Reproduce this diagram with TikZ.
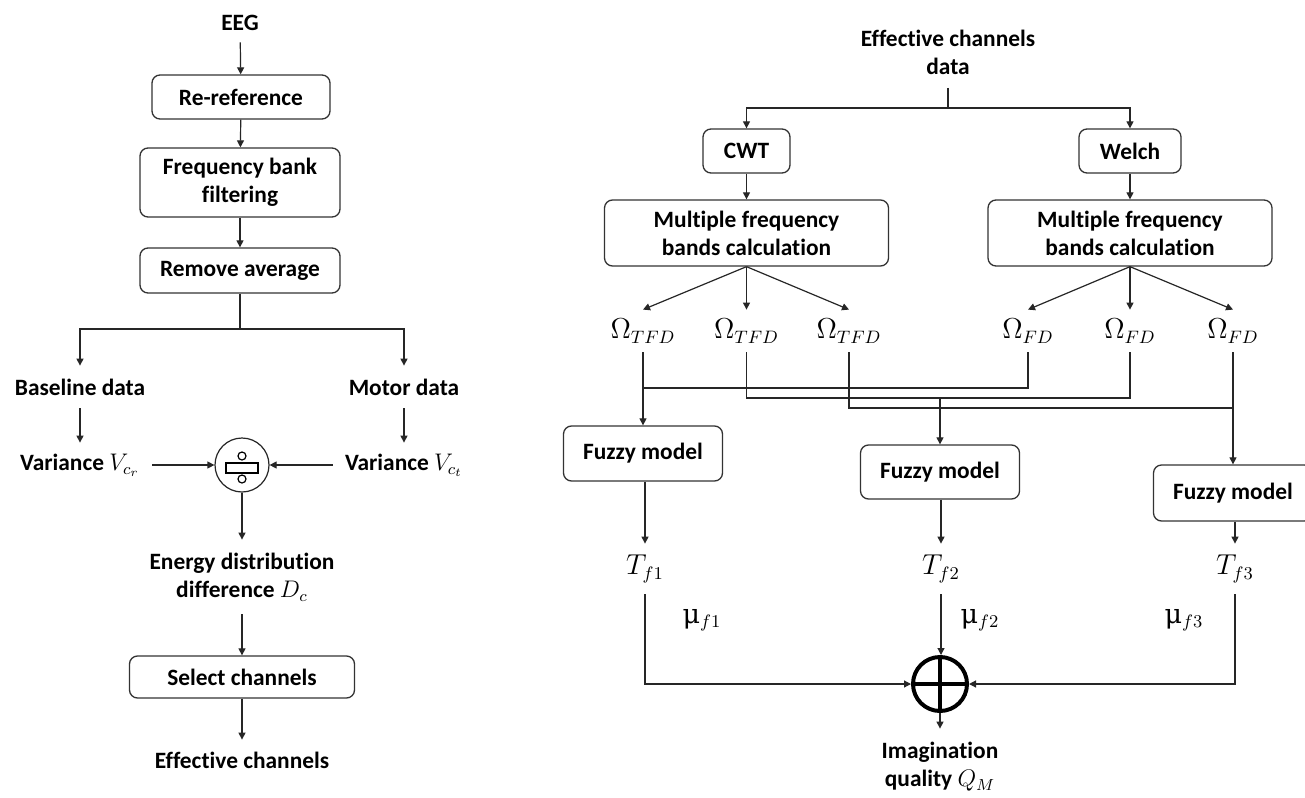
\documentclass[tikz,border=0pt]{standalone}
\usepackage[no-math]{fontspec}
\setmainfont{Carlito}[Ligatures=NoCommon]
\newfontfamily\grserif{DejaVu Serif}
\usetikzlibrary{arrows.meta}
\begin{document}
\begin{tikzpicture}[x=0.5pt,y=-0.5pt,
  base/.style={font=\fontsize{11.7}{14}\selectfont\bfseries},
  box/.style={base, draw=black!80, line width=0.65pt, rounded corners=4pt, inner sep=0pt, align=center},
  txt/.style={base, inner sep=0pt, align=center},
  mth/.style={inner sep=0pt, align=center, font=\fontsize{13.5}{15}\selectfont},
  arr/.style={-{Triangle[length=3.5pt,width=3.5pt]}, line width=0.6pt, black!85},
  ln/.style={line width=0.6pt, black!85}]
\useasboundingbox (0,0) rectangle (1305,797);
\fill[white] (0,0) rectangle (1305,797);

% ---------------- left chain ----------------
\node[txt, minimum height=19pt] (eeg) at (240,23) {EEG};
\node[box, minimum width=89pt, minimum height=22pt] (reref) at (241,97) {Re-reference};
\node[box, minimum width=100pt, minimum height=34.5pt] (fbf) at (240,182.5) {Frequency bank\\filtering};
\node[box, minimum width=100pt, minimum height=22.5pt] (ravg) at (240,270.5) {Remove average};
\coordinate (s1) at (240,329);
\node[txt, minimum height=21pt] (bl) at (80,387) {Baseline data};
\node[txt, minimum height=21pt] (md) at (404,387) {Motor data};
\node[txt, minimum height=22pt, inner xsep=6pt] (vcr) at (80,465) {Variance $V_{c_r}$};
\node[txt, minimum height=22pt, inner xsep=6pt] (vct) at (404,465) {Variance $V_{c_t}$};
\node[circle, draw=black!85, line width=0.6pt, minimum size=27pt, inner sep=0pt] (div) at (242,465) {};
\draw[line width=0.6pt] (242,456) circle[radius=4];
\draw[line width=0.6pt] (242,479) circle[radius=4];
\draw[line width=0.6pt] (226,463) rectangle (258,473);
\node[txt, minimum height=37pt] (edd) at (242,577) {Energy distribution\\difference $D_c$};
\node[box, minimum width=112.5pt, minimum height=21pt] (sel) at (242,677) {Select channels};
\node[txt, minimum height=20pt] (effc) at (242,760) {Effective channels};

\draw[arr] (eeg) -- (reref);
\draw[arr] (reref) -- (fbf);
\draw[arr] (fbf) -- (ravg);
\draw[ln] (ravg.south) -- (s1);
\draw[arr] (s1) -| (bl.north);
\draw[arr] (s1) -| (md.north);
\draw[arr] (bl) -- (vcr);
\draw[arr] (md) -- (vct);
\draw[arr] (vcr) -- (div);
\draw[arr] (vct) -- (div);
\draw[arr] (div) -- (edd);
\draw[arr] (edd) -- (sel);
\draw[arr] (sel) -- (effc);

% ---------------- right part ----------------
\node[txt, minimum height=35pt] (effd) at (948,52.5) {Effective channels\\data};
\coordinate (s2) at (948,108);
\node[box, minimum width=43.5pt, minimum height=22pt] (cwt) at (746.5,151) {CWT};
\node[box, minimum width=51pt, minimum height=22pt] (welch) at (1130,151) {Welch};
\node[box, minimum width=142pt, minimum height=33pt] (mfa) at (746.5,233) {Multiple frequency\\bands calculation};
\node[box, minimum width=142pt, minimum height=33pt] (mfb) at (1130,233) {Multiple frequency\\bands calculation};

\node[mth, minimum height=21pt] (ot1) at (643,331) {$\Omega_{TFD}$};
\node[mth, minimum height=21pt] (ot2) at (746.5,331) {$\Omega_{TFD}$};
\node[mth, minimum height=21pt] (ot3) at (849,331) {$\Omega_{TFD}$};
\node[mth, minimum height=21pt] (of1) at (1028,331) {$\Omega_{FD}$};
\node[mth, minimum height=21pt] (of2) at (1130,331) {$\Omega_{FD}$};
\node[mth, minimum height=21pt] (of3) at (1233,331) {$\Omega_{FD}$};

\coordinate (j1) at (643,388);
\coordinate (j2) at (940,398);
\coordinate (j3) at (1233,408);

\node[box, minimum width=79.5pt, minimum height=27.5pt] (fz1) at (643,453.5) {Fuzzy model};
\node[box, minimum width=79.5pt, minimum height=27pt] (fz2) at (940,472) {Fuzzy model};
\node[box, minimum width=79.5pt, minimum height=28pt] (fz3) at (1233,493) {Fuzzy model};

\node[mth, minimum height=25pt] (t1) at (645,569) {$T_{f1}$};
\node[mth, minimum height=25pt] (t2) at (941,569) {$T_{f2}$};
\node[mth, minimum height=25pt] (t3) at (1235,569) {$T_{f3}$};
\node[mth] (m1) at (702,620) {{\grserif μ}$_{f1}$};
\node[mth] (m2) at (980,620) {{\grserif μ}$_{f2}$};
\node[mth] (m3) at (1184,620) {{\grserif μ}$_{f3}$};

\node[circle, draw=black, line width=2pt, minimum size=27pt, inner sep=0pt] (op) at (940,684) {};
\draw[line width=2pt] (op.center) ++(0,-26) -- ++(0,52);
\draw[line width=2pt] (op.center) ++(-27,0) -- ++(54,0);
\node[txt, minimum height=38pt] (iq) at (940,767) {Imagination\\quality $Q_M$};

\draw[ln] (effd.south) -- (s2);
\draw[arr] (s2) -| (cwt.north);
\draw[arr] (s2) -| (welch.north);
\draw[arr] (cwt) -- (mfa);
\draw[arr] (welch) -- (mfb);
\draw[arr] (mfa.south) -- (ot1.north);
\draw[arr] (mfa.south) -- (ot2.north);
\draw[arr] (mfa.south) -- (ot3.north);
\draw[arr] (mfb.south) -- (of1.north);
\draw[arr] (mfb.south) -- (of2.north);
\draw[arr] (mfb.south) -- (of3.north);

\draw[arr] (ot1.south) -- (fz1.north);
\draw[ln] (of1.south) |- (j1);
\draw[ln] (ot2.south) |- (j2);
\draw[ln] (of2.south) |- (j2);
\draw[arr] (j2) -- (fz2.north);
\draw[ln] (ot3.south) |- (j3);
\draw[arr] (of3.south) -- (fz3.north);

\draw[arr] (fz1.south -| t1) -- (t1.north);
\draw[arr] (fz2.south -| t2) -- (t2.north);
\draw[arr] (fz3.south -| t3) -- (t3.north);

\draw[arr] (t1.south) |- (op.west);
\draw[arr] (t2.south) -- (op.north -| t2);
\draw[arr] (t3.south) |- (op.east);
\draw[arr] (op.south) -- (iq.north);
\end{tikzpicture}
\end{document}
